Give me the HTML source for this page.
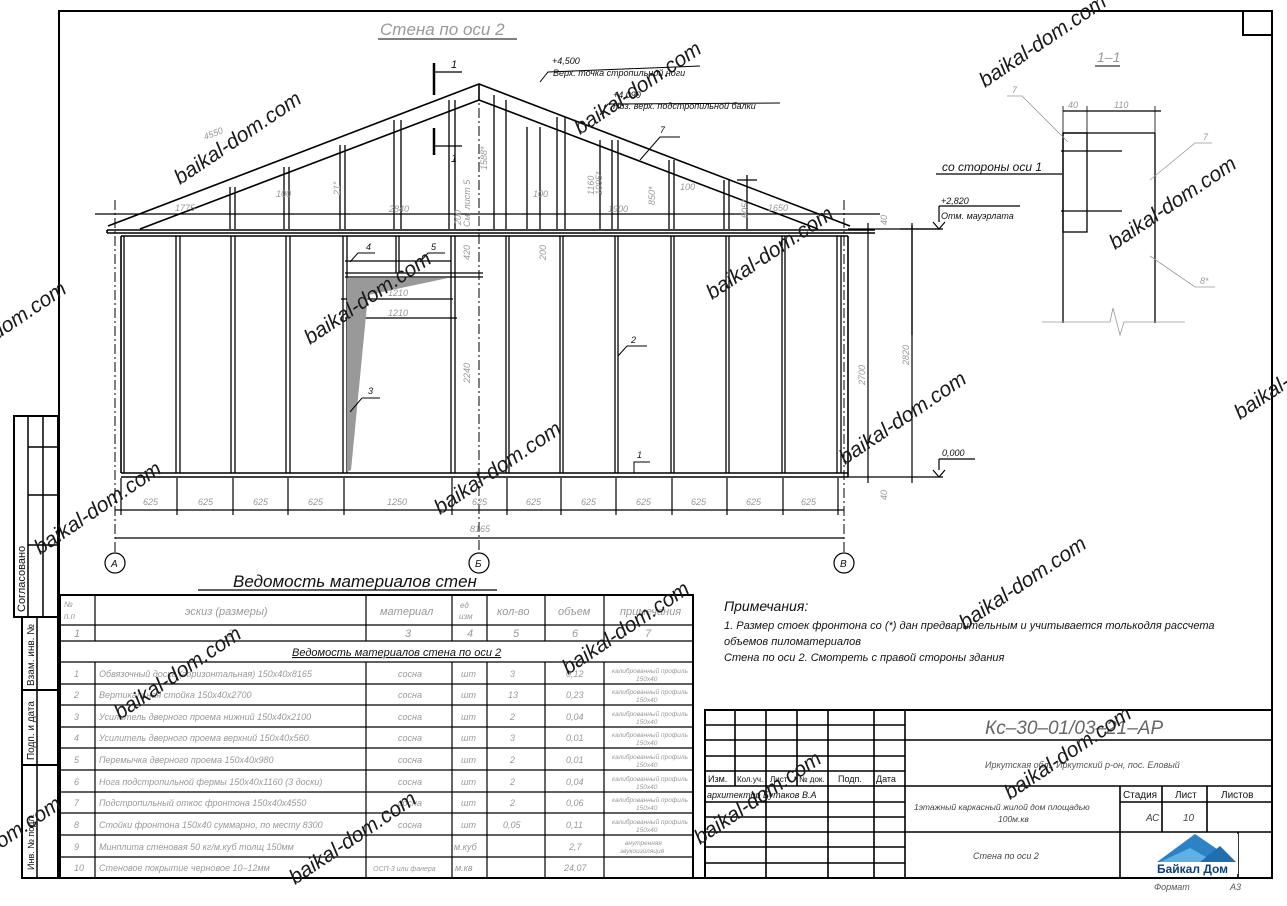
<!DOCTYPE html>
<html><head><meta charset="utf-8"><style>
html,body{margin:0;padding:0;background:#fff}
svg{display:block}
text{font-family:"Liberation Sans","DejaVu Sans",sans-serif;font-style:italic}
.g{fill:#999}
.k{fill:#111}
.wm{font-family:"Liberation Serif",serif;font-style:normal;font-size:21px;fill:#1a1a1a}
</style></head><body>
<svg width="1287" height="906" viewBox="0 0 1287 906" xmlns="http://www.w3.org/2000/svg">
<rect width="1287" height="906" fill="#fff"/>
<!-- frame -->
<g fill="none" stroke="#000">
<rect x="59" y="11" width="1213" height="867" stroke-width="2"/>
<rect x="1243" y="11" width="29" height="24" stroke-width="2"/>
<!-- left strip -->
<rect x="14" y="416" width="44" height="201" stroke-width="2"/>
<line x1="28" y1="416" x2="28" y2="617" stroke-width="1.5"/>
<line x1="43" y1="416" x2="43" y2="617" stroke-width="1.5"/>
<line x1="28" y1="447" x2="58" y2="447" stroke-width="1.5"/>
<line x1="28" y1="495" x2="58" y2="495" stroke-width="1.5"/>
<line x1="28" y1="545" x2="58" y2="545" stroke-width="1.5"/>
<rect x="22" y="617" width="36" height="261" stroke-width="2"/>
<line x1="37" y1="617" x2="37" y2="878" stroke-width="1.5"/>
<line x1="22" y1="690" x2="58" y2="690" stroke-width="2"/>
<line x1="22" y1="765" x2="58" y2="765" stroke-width="2"/>
</g>
<g class="k" font-size="11" font-style="normal">
<text transform="translate(25,612) rotate(-90)" style="font-style:normal">Согласовано</text>
<text transform="translate(34,686) rotate(-90)" font-size="10" style="font-style:normal">Взам. инв. №</text>
<text transform="translate(34,760) rotate(-90)" font-size="10" style="font-style:normal">Подп. и дата</text>
<text transform="translate(34,870) rotate(-90)" font-size="9" style="font-style:normal">Инв. № подл.</text>
</g>

<!-- title -->
<text x="380" y="35" font-size="17" class="g">Стена по оси 2</text>
<line x1="378" y1="39" x2="517" y2="39" stroke="#000"/>

<!-- roof -->
<g stroke="#000" stroke-width="1.6" fill="none">
<polyline points="108,226 479,84 850,226"/>
<polyline points="140,229 479,100 818,229"/>
<line x1="479" y1="84" x2="479" y2="100"/>
<line x1="107" y1="230" x2="875" y2="230"/>
<line x1="107" y1="233" x2="875" y2="233"/>
<line x1="107" y1="230" x2="107" y2="233"/>
<line x1="121" y1="236" x2="848" y2="236"/>
<line x1="95" y1="214" x2="880" y2="214" stroke-width="1.2"/>
</g>
<!-- gable studs -->
<g stroke="#000" stroke-width="1.3">
<line x1="230" y1="187" x2="230" y2="229"/><line x1="235" y1="187" x2="235" y2="229"/>
<line x1="284" y1="167" x2="284" y2="229"/><line x1="289" y1="167" x2="289" y2="229"/>
<line x1="340" y1="145" x2="340" y2="229"/><line x1="345" y1="145" x2="345" y2="229"/>
<line x1="394" y1="120" x2="394" y2="229"/><line x1="401" y1="120" x2="401" y2="229"/>
<line x1="449" y1="100" x2="449" y2="229"/><line x1="455" y1="100" x2="455" y2="229"/>
<line x1="494" y1="95" x2="494" y2="229"/><line x1="506" y1="100" x2="506" y2="229"/>
<line x1="557" y1="117" x2="557" y2="229"/><line x1="565" y1="117" x2="565" y2="229"/>
<line x1="612" y1="140" x2="612" y2="229"/><line x1="618" y1="140" x2="618" y2="229"/>
<line x1="669" y1="160" x2="669" y2="229"/><line x1="674" y1="160" x2="674" y2="229"/>
<line x1="724" y1="180" x2="724" y2="229"/><line x1="729" y1="180" x2="729" y2="229"/>
<line x1="737" y1="180" x2="757" y2="180"/><line x1="747" y1="175" x2="747" y2="229"/>
<line x1="527" y1="127" x2="527" y2="229"/><line x1="540" y1="127" x2="540" y2="229"/>
<line x1="600" y1="140" x2="600" y2="229"/>
</g>
<!-- section markers -->
<g stroke="#000" stroke-width="2.5"><line x1="434" y1="63" x2="434" y2="95"/><line x1="434" y1="128" x2="434" y2="155"/></g>
<g stroke="#000" stroke-width="1.2"><line x1="435" y1="72" x2="462" y2="72"/><line x1="435" y1="146" x2="462" y2="146"/></g>
<text x="451" y="68" font-size="11" class="k">1</text><text x="451" y="162" font-size="11" class="k">1</text>
<!-- roof labels -->
<g class="g" font-size="9">
<text transform="translate(205,140) rotate(-21)">4550</text>
<text x="175" y="211">1775</text>
<text x="389" y="212">2840</text>
<text x="276" y="197">100</text>
<text x="533" y="197">100</text>
<text x="680" y="190">100</text>
<text x="608" y="212">1900</text>
<text x="768" y="211">1650</text>
<text transform="translate(487,170) rotate(-90)">1588*</text>
<text transform="translate(594,195) rotate(-90)">1160</text>
<text transform="translate(602,195) rotate(-90)">1095*</text>
<text transform="translate(655,205) rotate(-90)">850*</text>
<text transform="translate(748,218) rotate(-90)">605*</text>
<text transform="translate(340,195) rotate(-90)">21°</text>
<text transform="translate(461,225) rotate(-90)">200</text>
<text transform="translate(470,227) rotate(-90)">См. лист 5</text>
</g>
<g class="k" font-size="9">
<text x="552" y="64">+4,500</text>
<text x="553" y="76">Верх. точка стропильной ноги</text>
<text x="613" y="98">+4,090</text>
<text x="613" y="109">Низ. верх. подстропильной балки</text>
<text x="660" y="133">7</text>
</g>
<g stroke="#000" fill="none" stroke-width="1">
<polyline points="540,82 548,72 700,66"/>
<polyline points="600,115 608,104 780,103"/>
<polyline points="640,160 660,137 680,137"/>
</g>

<!-- wall -->
<g stroke="#000" stroke-width="1.6" fill="none">
<line x1="121" y1="236" x2="121" y2="473"/>
<line x1="121" y1="473" x2="848" y2="473"/>
<line x1="121" y1="477" x2="848" y2="477"/>
<line x1="848" y1="236" x2="848" y2="477"/>
</g>
<g stroke="#000" stroke-width="1.3">
<line x1="124" y1="236" x2="124" y2="473"/>
<line x1="176" y1="236" x2="176" y2="473"/><line x1="180" y1="236" x2="180" y2="473"/>
<line x1="231" y1="236" x2="231" y2="473"/><line x1="235" y1="236" x2="235" y2="473"/>
<line x1="286" y1="236" x2="286" y2="473"/><line x1="290" y1="236" x2="290" y2="473"/>
<line x1="343" y1="236" x2="343" y2="473"/><line x1="347" y1="236" x2="347" y2="473"/>
<line x1="396" y1="236" x2="396" y2="273"/><line x1="399" y1="236" x2="399" y2="273"/>
<line x1="451" y1="236" x2="451" y2="473"/><line x1="455" y1="236" x2="455" y2="473"/>
<line x1="506" y1="236" x2="506" y2="473"/><line x1="509" y1="236" x2="509" y2="473"/>
<line x1="560" y1="236" x2="560" y2="473"/><line x1="563" y1="236" x2="563" y2="473"/>
<line x1="615" y1="236" x2="615" y2="473"/><line x1="618" y1="236" x2="618" y2="473"/>
<line x1="671" y1="236" x2="671" y2="473"/><line x1="674" y1="236" x2="674" y2="473"/>
<line x1="726" y1="236" x2="726" y2="473"/><line x1="729" y1="236" x2="729" y2="473"/>
<line x1="782" y1="236" x2="782" y2="473"/><line x1="785" y1="236" x2="785" y2="473"/>
<line x1="837" y1="236" x2="837" y2="473"/><line x1="841" y1="236" x2="841" y2="473"/>
<line x1="345" y1="261" x2="451" y2="261"/>
<line x1="345" y1="273" x2="483" y2="273"/>
<line x1="345" y1="277" x2="483" y2="277"/>
<line x1="341" y1="299" x2="453" y2="299"/>
<line x1="345" y1="318" x2="457" y2="318"/>
</g>
<polygon points="347,278 448,278 368,295 351,470 347,472" fill="#999"/>
<!-- axis dashed -->
<g stroke="#000" stroke-width="1" stroke-dasharray="10,3,2,3">
<line x1="115" y1="200" x2="115" y2="553"/>
<line x1="479" y1="90" x2="479" y2="553"/>
<line x1="844" y1="200" x2="844" y2="553"/>
</g>
<!-- wall labels -->
<g class="k" font-size="9">
<text x="366" y="250">4</text><text x="431" y="250">5</text>
<text x="368" y="394">3</text><text x="631" y="343">2</text><text x="637" y="458">1</text>
</g>
<g stroke="#000" stroke-width="1" fill="none">
<polyline points="350,262 358,253 375,253"/><polyline points="420,262 428,253 445,253"/>
<polyline points="350,412 362,398 380,398"/><polyline points="618,356 627,346 647,346"/>
<polyline points="634,473 634,462 650,462"/>
</g>
<g class="g" font-size="9">
<text x="388" y="296">1210</text><text x="388" y="316">1210</text>
<text transform="translate(470,260) rotate(-90)">420</text>
<text transform="translate(470,383) rotate(-90)">2240</text>
<text transform="translate(546,260) rotate(-90)">200</text>
<text transform="translate(865,385) rotate(-90)">2700</text>
<text transform="translate(909,365) rotate(-90)">2820</text>
<text transform="translate(887,500) rotate(-90)">40</text>
<text transform="translate(887,225) rotate(-90)">40</text>
</g>
<!-- right levels -->
<g stroke="#000" stroke-width="1.2" fill="none">
<line x1="868" y1="223" x2="868" y2="483"/>
<line x1="912" y1="223" x2="912" y2="483"/>
<line x1="848" y1="229" x2="943" y2="229"/>
<line x1="848" y1="477" x2="943" y2="477"/>
<polyline points="933,222 939,229 945,222"/><line x1="939" y1="222" x2="939" y2="206"/><line x1="939" y1="206" x2="1020" y2="206"/>
<polyline points="933,470 939,477 945,470"/><line x1="939" y1="470" x2="939" y2="459"/><line x1="939" y1="459" x2="975" y2="459"/>
</g>
<g class="k" font-size="9">
<text x="941" y="204">+2,820</text><text x="941" y="219">Отм. мауэрлата</text>
<text x="942" y="456">0,000</text>
</g>
<!-- bottom dims -->
<g stroke="#000" stroke-width="1.2" fill="none">
<line x1="115" y1="510" x2="844" y2="510"/>
<line x1="115" y1="538" x2="844" y2="538"/>
<line x1="121" y1="478" x2="121" y2="515"/>
<line x1="177" y1="478" x2="177" y2="515"/><line x1="233" y1="478" x2="233" y2="515"/>
<line x1="288" y1="478" x2="288" y2="515"/><line x1="344" y1="478" x2="344" y2="515"/>
<line x1="452" y1="478" x2="452" y2="515"/><line x1="507" y1="478" x2="507" y2="515"/>
<line x1="561" y1="478" x2="561" y2="515"/><line x1="616" y1="478" x2="616" y2="515"/>
<line x1="672" y1="478" x2="672" y2="515"/><line x1="727" y1="478" x2="727" y2="515"/>
<line x1="783" y1="478" x2="783" y2="515"/><line x1="838" y1="478" x2="838" y2="515"/>
<circle cx="115" cy="563" r="10"/><circle cx="479" cy="563" r="10"/><circle cx="844" cy="563" r="10"/>
</g>
<g class="g" font-size="9">
<text x="143" y="505">625</text><text x="198" y="505">625</text><text x="253" y="505">625</text><text x="308" y="505">625</text>
<text x="387" y="505">1250</text><text x="472" y="505">625</text><text x="526" y="505">625</text><text x="581" y="505">625</text>
<text x="636" y="505">625</text><text x="691" y="505">625</text><text x="746" y="505">625</text><text x="801" y="505">625</text>
<text x="470" y="532">8165</text>
</g>
<g class="k" font-size="10"><text x="111" y="567">А</text><text x="475" y="567">Б</text><text x="840" y="567">В</text></g>

<!-- section 1-1 -->
<text x="1097" y="62" font-size="14" class="g">1–1</text>
<line x1="1095" y1="66" x2="1120" y2="66" stroke="#000"/>
<g stroke="#000" stroke-width="1.3" fill="none">
<line x1="1063" y1="133" x2="1155" y2="133"/>
<line x1="1063" y1="133" x2="1063" y2="323"/>
<line x1="1155" y1="133" x2="1155" y2="323"/>
<rect x="1063" y="133" width="24" height="99"/>
<line x1="1063" y1="111" x2="1161" y2="111"/>
<line x1="1063" y1="106" x2="1063" y2="133" stroke-width="0.8"/>
<line x1="1087" y1="106" x2="1087" y2="133" stroke-width="0.8"/>
<line x1="1155" y1="106" x2="1155" y2="133" stroke-width="0.8"/>
<line x1="1061" y1="151" x2="1122" y2="151"/>
<line x1="1061" y1="211" x2="1122" y2="211"/>
<line x1="936" y1="174" x2="1062" y2="174"/>
<line x1="900" y1="229" x2="940" y2="229"/>
<line x1="912" y1="225" x2="912" y2="335"/>
</g>
<g stroke="#999" stroke-width="0.8" fill="none">
<polyline points="1007,96 1022,96 1068,142"/>
<polyline points="1212,143 1195,143 1150,180"/>
<polyline points="1215,287 1195,287 1150,256"/>
<polyline points="1042,322 1110,322 1113,308 1120,335 1124,322 1185,322"/>
</g>
<g class="g" font-size="9"><text x="1012" y="93">7</text><text x="1203" y="140">7</text><text x="1200" y="284">8*</text>
<text x="1068" y="108">40</text><text x="1114" y="108">110</text></g>
<text x="942" y="171" font-size="12" class="k">со стороны оси 1</text>

<!-- table -->
<text x="233" y="587" font-size="17" class="k">Ведомость  материалов стен</text>
<line x1="198" y1="590" x2="497" y2="590" stroke="#000" stroke-width="1.2"/>
<g stroke="#000" fill="none">
<rect x="60" y="595" width="633" height="283" stroke-width="2"/>
<g stroke-width="1.2">
<line x1="60" y1="625" x2="693" y2="625"/><line x1="60" y1="641" x2="693" y2="641"/>
<line x1="60" y1="662" x2="693" y2="662"/><line x1="60" y1="684" x2="693" y2="684"/>
<line x1="60" y1="705" x2="693" y2="705"/><line x1="60" y1="727" x2="693" y2="727"/>
<line x1="60" y1="748" x2="693" y2="748"/><line x1="60" y1="770" x2="693" y2="770"/>
<line x1="60" y1="792" x2="693" y2="792"/><line x1="60" y1="813" x2="693" y2="813"/>
<line x1="60" y1="835" x2="693" y2="835"/><line x1="60" y1="857" x2="693" y2="857"/>
<line x1="95" y1="595" x2="95" y2="641"/><line x1="95" y1="662" x2="95" y2="878"/>
<line x1="366" y1="595" x2="366" y2="641"/><line x1="366" y1="662" x2="366" y2="878"/>
<line x1="452" y1="595" x2="452" y2="641"/><line x1="452" y1="662" x2="452" y2="878"/>
<line x1="487" y1="595" x2="487" y2="641"/><line x1="487" y1="662" x2="487" y2="878"/>
<line x1="545" y1="595" x2="545" y2="641"/><line x1="545" y1="662" x2="545" y2="878"/>
<line x1="604" y1="595" x2="604" y2="641"/><line x1="604" y1="662" x2="604" y2="878"/>
</g></g>
<g class="g" font-size="11">
<text x="64" y="607" font-size="8">№</text><text x="64" y="619" font-size="8">п.п</text>
<text x="185" y="615">эскиз (размеры)</text><text x="380" y="615">материал</text>
<text x="460" y="608" font-size="8">ед</text><text x="459" y="619" font-size="8">изм</text>
<text x="497" y="615">кол-во</text><text x="558" y="615">объем</text><text x="620" y="615">примечания</text>
<text x="74" y="637">1</text><text x="228" y="637">2</text><text x="405" y="637">3</text><text x="467" y="637">4</text><text x="513" y="637">5</text><text x="572" y="637">6</text><text x="645" y="637">7</text>
</g>
<text x="292" y="656" font-size="11" class="k" text-decoration="underline">Ведомость  материалов стена по оси 2</text>
<g class="g" font-size="9">
<text x="74" y="677">1</text><text x="99" y="677">Обвязочный доска (горизонтальная) 150х40х8165</text>
<text x="74" y="698">2</text><text x="99" y="698">Вертикальная стойка 150х40х2700</text>
<text x="74" y="720">3</text><text x="99" y="720">Усилитель дверного проема нижний 150х40х2100</text>
<text x="74" y="741">4</text><text x="99" y="741">Усилитель дверного проема верхний 150х40х560</text>
<text x="74" y="763">5</text><text x="99" y="763">Перемычка дверного проема 150х40х980</text>
<text x="74" y="785">6</text><text x="99" y="785">Нога подстропильной фермы 150х40х1160 (3 доски)</text>
<text x="74" y="806">7</text><text x="99" y="806">Подстропильный откос фронтона 150х40х4550</text>
<text x="74" y="828">8</text><text x="99" y="828">Стойки фронтона 150х40 суммарно, по месту 8300</text>
<text x="74" y="850">9</text><text x="99" y="850">Минплита стеновая 50 кг/м.куб толщ 150мм</text>
<text x="74" y="871">10</text><text x="99" y="871">Стеновое покрытие черновое 10–12мм</text>
<text x="398" y="677">сосна</text><text x="398" y="698">сосна</text><text x="398" y="720">сосна</text><text x="398" y="741">сосна</text>
<text x="398" y="763">сосна</text><text x="398" y="785">сосна</text><text x="398" y="806">сосна</text><text x="398" y="828">сосна</text>
<text x="373" y="871" font-size="7">ОСП-3 или фанера</text>
<text x="461" y="677">шт</text><text x="461" y="698">шт</text><text x="461" y="720">шт</text><text x="461" y="741">шт</text>
<text x="461" y="763">шт</text><text x="461" y="785">шт</text><text x="461" y="806">шт</text><text x="461" y="828">шт</text>
<text x="454" y="850">м.куб</text><text x="455" y="871">м.кв</text>
<text x="510" y="677">3</text><text x="508" y="698">13</text><text x="510" y="720">2</text><text x="510" y="741">3</text>
<text x="510" y="763">2</text><text x="510" y="785">2</text><text x="510" y="806">2</text><text x="503" y="828">0,05</text>
<text x="566" y="677">0,12</text><text x="566" y="698">0,23</text><text x="566" y="720">0,04</text><text x="566" y="741">0,01</text>
<text x="566" y="763">0,01</text><text x="566" y="785">0,04</text><text x="566" y="806">0,06</text><text x="566" y="828">0,11</text>
<text x="569" y="850">2,7</text><text x="564" y="871">24,07</text>
</g>
<g class="g" font-size="6.5">
<text x="612" y="673">калиброванный профиль</text><text x="636" y="681">150х40</text>
<text x="612" y="694">калиброванный профиль</text><text x="636" y="702">150х40</text>
<text x="612" y="716">калиброванный профиль</text><text x="636" y="724">150х40</text>
<text x="612" y="737">калиброванный профиль</text><text x="636" y="745">150х40</text>
<text x="612" y="759">калиброванный профиль</text><text x="636" y="767">150х40</text>
<text x="612" y="781">калиброванный профиль</text><text x="636" y="789">150х40</text>
<text x="612" y="802">калиброванный профиль</text><text x="636" y="810">150х40</text>
<text x="612" y="824">калиброванный профиль</text><text x="636" y="832">150х40</text>
<text x="625" y="845">внутренняя</text><text x="620" y="853">звукоизоляция</text>
</g>

<!-- notes -->
<g class="k">
<text x="724" y="611" font-size="14">Примечания:</text>
<text x="724" y="629" font-size="11">1.  Размер стоек фронтона со (*) дан предварительным и учитывается толькодля рассчета</text>
<text x="724" y="645" font-size="11">объемов пиломатериалов</text>
<text x="724" y="661" font-size="11">Стена по оси 2. Смотреть с правой стороны здания</text>
</g>

<!-- title block -->
<g stroke="#000" fill="none">
<rect x="705" y="710" width="567" height="168" stroke-width="2"/>
<g stroke-width="1.6">
<line x1="705" y1="725" x2="905" y2="725"/><line x1="705" y1="740" x2="905" y2="740"/>
<line x1="705" y1="756" x2="905" y2="756"/><line x1="705" y1="771" x2="905" y2="771"/>
<line x1="705" y1="786" x2="905" y2="786"/><line x1="705" y1="802" x2="905" y2="802"/>
<line x1="705" y1="817" x2="905" y2="817"/><line x1="705" y1="832" x2="905" y2="832"/>
<line x1="705" y1="847" x2="905" y2="847"/><line x1="705" y1="863" x2="905" y2="863"/>
<line x1="735" y1="710" x2="735" y2="786"/><line x1="766" y1="710" x2="766" y2="878"/>
<line x1="797" y1="710" x2="797" y2="786"/><line x1="828" y1="710" x2="828" y2="878"/>
<line x1="874" y1="710" x2="874" y2="878"/><line x1="905" y1="710" x2="905" y2="878"/>
<line x1="905" y1="740" x2="1272" y2="740"/><line x1="905" y1="786" x2="1272" y2="786"/>
<line x1="905" y1="832" x2="1272" y2="832"/>
<line x1="1120" y1="786" x2="1120" y2="878"/><line x1="1162" y1="786" x2="1162" y2="832"/>
<line x1="1207" y1="786" x2="1207" y2="832"/><line x1="1120" y1="802" x2="1272" y2="802"/>
<line x1="1238" y1="832" x2="1238" y2="878"/>
</g></g>
<g class="k">
<text x="985" y="734" font-size="19" class="g" style="fill:#666">Кс–30–01/03–21–АР</text>
<text x="985" y="768" font-size="9" class="g" style="fill:#555">Иркутская обл., Иркутский р-он, пос. Еловый</text>
<text x="708" y="782" font-size="9" style="font-style:normal">Изм.</text>
<text x="737" y="782" font-size="8" style="font-style:normal">Кол.уч.</text>
<text x="770" y="782" font-size="8" style="font-style:normal">Лист</text>
<text x="799" y="782" font-size="8" style="font-style:normal">№ док.</text>
<text x="838" y="782" font-size="9" style="font-style:normal">Подп.</text>
<text x="876" y="782" font-size="9" style="font-style:normal">Дата</text>
<text x="707" y="798" font-size="9">архитектор Бутаков В.А</text>
<text x="914" y="810" font-size="8.5" style="fill:#444">1этажный каркасный жилой дом  площадью</text>
<text x="998" y="822" font-size="8.5" style="fill:#444">100м.кв</text>
<text x="973" y="859" font-size="9" style="fill:#444">Стена по оси 2</text>
<text x="1123" y="798" font-size="10" style="font-style:normal">Стадия</text>
<text x="1175" y="798" font-size="10" style="font-style:normal">Лист</text>
<text x="1221" y="798" font-size="10" style="font-style:normal">Листов</text>
<text x="1146" y="821" font-size="10" style="fill:#444">АС</text>
<text x="1183" y="821" font-size="10" style="fill:#444">10</text>
<text x="1154" y="890" font-size="9" style="fill:#555">Формат</text>
<text x="1230" y="890" font-size="9" style="fill:#555">А3</text>
</g>
<!-- logo -->
<g>
<rect x="1155" y="834" width="83" height="30" fill="#fff"/>
<polygon points="1157,862 1195,834 1236,862" fill="#2b83c6"/>
<polygon points="1160,862 1190,848 1215,862" fill="#5fb0e3"/>
<polygon points="1200,862 1220,846 1236,862" fill="#1f6fae"/>
<rect x="1156" y="862" width="82" height="12" fill="#fff"/>
<text x="1157" y="873" font-size="12" font-weight="bold" style="font-style:normal;fill:#0d3e7a">Байкал Дом</text>
</g>

<!-- watermarks -->
<g class="wm">
<text transform="translate(180,185) rotate(-34)">baikal-dom.com</text>
<text transform="translate(580,135) rotate(-34)">baikal-dom.com</text>
<text transform="translate(985,88) rotate(-34)">baikal-dom.com</text>
<text transform="translate(1115,250) rotate(-34)">baikal-dom.com</text>
<text transform="translate(310,345) rotate(-34)">baikal-dom.com</text>
<text transform="translate(712,300) rotate(-34)">baikal-dom.com</text>
<text transform="translate(845,465) rotate(-34)">baikal-dom.com</text>
<text transform="translate(-55,375) rotate(-34)">baikal-dom.com</text>
<text transform="translate(40,555) rotate(-34)">baikal-dom.com</text>
<text transform="translate(440,515) rotate(-34)">baikal-dom.com</text>
<text transform="translate(965,630) rotate(-34)">baikal-dom.com</text>
<text transform="translate(568,675) rotate(-34)">baikal-dom.com</text>
<text transform="translate(120,720) rotate(-34)">baikal-dom.com</text>
<text transform="translate(1240,420) rotate(-34)">baikal-dom.com</text>
<text transform="translate(1010,800) rotate(-34)">baikal-dom.com</text>
<text transform="translate(700,845) rotate(-34)">baikal-dom.com</text>
<text transform="translate(295,885) rotate(-34)">baikal-dom.com</text>
<text transform="translate(-60,890) rotate(-34)">baikal-dom.com</text>
</g>
</svg>
</body></html>
